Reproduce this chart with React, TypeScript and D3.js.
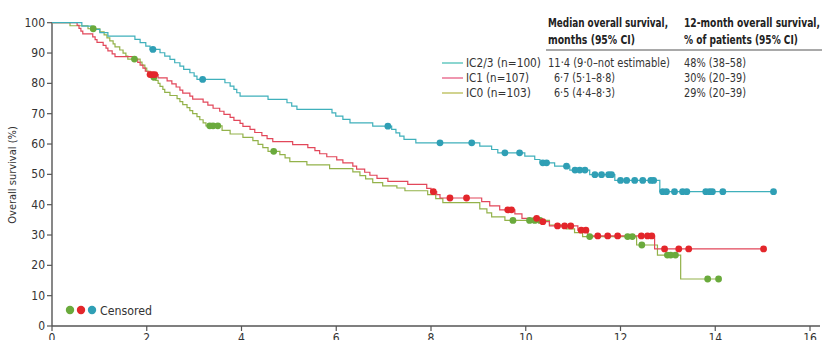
import React from "react";
import * as d3 from "d3";

// ---------- DATA ----------
const xTicks = [0, 2, 4, 6, 8, 10, 12, 14, 16];
const yTicks = [0, 10, 20, 30, 40, 50, 60, 70, 80, 90, 100];

// Kaplan–Meier steps: [month, survival %] after each event
const ic23Steps: [number, number][] = [
  [0.63, 98.9], [0.84, 97.8], [1.01, 96.7], [1.18, 95.6], [1.75, 94.5], [1.86, 93.4],
  [1.98, 92.3], [2.07, 91.2], [2.28, 90.1], [2.38, 89.0], [2.49, 87.9], [2.59, 86.8],
  [2.7, 85.7], [2.78, 84.6], [2.91, 83.5], [3.0, 82.4], [3.06, 81.3], [3.65, 80.2],
  [3.76, 79.1], [3.84, 78.0], [3.9, 76.9], [3.97, 75.8], [4.56, 74.7], [4.96, 73.6],
  [5.06, 72.5], [5.17, 71.4], [5.91, 70.3], [5.99, 69.2], [6.14, 68.1], [6.29, 67.0],
  [6.77, 65.9], [7.17, 64.8], [7.26, 63.7], [7.34, 62.6], [7.43, 61.5], [7.68, 60.4],
  [9.03, 59.3], [9.28, 58.2], [9.41, 57.1], [9.98, 56.0], [10.19, 54.9], [10.3, 53.8],
  [10.61, 52.7], [10.93, 51.4], [11.35, 49.9], [11.88, 48.0], [12.83, 44.3],
];
const ic23Censored = [
  2.13, 3.18, 7.09, 8.19, 8.86, 9.56, 9.87, 10.36, 10.44, 10.86, 11.04, 11.14, 11.25,
  11.46, 11.6, 11.75, 11.81, 12.0, 12.13, 12.3, 12.47, 12.64, 12.7, 12.89, 12.97,
  13.14, 13.31, 13.4, 13.8, 13.88, 13.94, 14.16, 15.23,
];

const ic1Steps: [number, number][] = [
  [0.53, 99.1], [0.57, 98.1], [0.61, 97.2], [0.65, 96.3], [0.86, 95.3], [0.91, 94.4],
  [0.95, 93.5], [1.08, 92.5], [1.14, 91.6], [1.18, 90.7], [1.27, 89.7], [1.33, 88.8],
  [1.71, 87.9], [1.81, 86.9], [1.86, 86.0], [1.92, 85.0], [1.97, 84.0], [2.03, 82.9],
  [2.24, 81.8], [2.43, 80.8], [2.53, 79.8], [2.62, 78.8], [2.7, 77.8], [2.76, 76.8],
  [2.91, 75.8], [2.97, 74.8], [3.19, 73.8], [3.29, 72.8], [3.4, 71.8], [3.54, 70.8],
  [3.63, 69.8], [3.76, 68.8], [3.84, 67.8], [3.97, 66.8], [4.03, 65.8], [4.18, 64.8],
  [4.28, 63.8], [4.43, 62.8], [4.54, 61.8], [4.66, 60.8], [5.08, 59.8], [5.4, 58.8],
  [5.55, 57.8], [5.65, 56.8], [5.8, 55.8], [6.01, 54.8], [6.14, 53.8], [6.35, 52.7],
  [6.43, 51.7], [6.6, 50.7], [6.71, 49.7], [6.86, 48.7], [7.09, 47.7], [7.51, 46.7],
  [7.91, 45.4], [8.0, 44.3], [8.12, 43.3], [8.19, 42.2], [9.07, 41.0], [9.24, 39.6],
  [9.45, 38.3], [9.77, 37.0], [9.92, 35.5], [10.32, 34.4], [10.5, 33.0], [11.1, 31.6],
  [11.31, 29.7], [12.72, 25.4],
];
const ic1Censored = [
  2.07, 2.12, 2.17, 8.05, 8.4, 8.75, 9.62, 9.7, 10.23, 10.36, 10.67, 10.82, 10.95,
  11.17, 11.27, 11.52, 11.73, 11.94, 12.44, 12.57, 12.66, 12.93, 13.23, 13.44, 15.02,
];

const ic0Steps: [number, number][] = [
  [0.38, 99.0], [0.76, 98.0], [1.01, 97.0], [1.1, 96.0], [1.16, 95.0], [1.22, 94.0],
  [1.29, 93.0], [1.33, 92.0], [1.43, 91.0], [1.5, 90.0], [1.56, 89.0], [1.6, 88.0],
  [1.86, 87.0], [1.9, 86.0], [1.96, 85.0], [2.0, 84.0], [2.07, 83.0], [2.11, 82.0],
  [2.19, 81.0], [2.24, 80.0], [2.28, 79.0], [2.34, 78.0], [2.38, 77.0], [2.49, 76.0],
  [2.64, 75.0], [2.7, 74.0], [2.76, 73.0], [2.85, 72.0], [2.91, 71.0], [2.97, 70.0],
  [3.06, 69.0], [3.12, 68.0], [3.19, 67.0], [3.25, 66.0], [3.59, 64.5], [3.76, 63.3],
  [4.03, 62.2], [4.24, 61.1], [4.35, 59.9], [4.45, 58.8], [4.56, 57.6], [4.81, 56.5],
  [4.92, 55.4], [5.02, 54.2], [5.38, 53.1], [5.86, 51.9], [6.35, 50.8], [6.5, 49.6],
  [6.62, 48.5], [6.77, 47.3], [6.98, 46.2], [7.28, 45.5], [7.45, 44.6], [7.93, 43.3],
  [8.1, 42.0], [8.25, 40.7], [9.03, 38.6], [9.18, 37.3], [9.28, 36.0], [9.56, 34.8],
  [10.5, 33.3], [10.86, 32.0], [11.03, 30.8], [11.2, 29.5], [12.34, 26.7], [12.78, 23.4],
  [13.27, 15.5],
];
const ic0Censored = [
  0.87, 1.74, 2.15, 3.33, 3.4, 3.5, 4.68, 9.73, 10.08, 10.19, 10.3, 11.35, 12.15,
  12.25, 12.45, 12.99, 13.06, 13.16, 13.84, 14.07,
];

const groupNames = ["IC2/3 (n=100)", "IC1 (n=107)", "IC0 (n=103)"];
const medianText = ["11·4 (9·0–not estimable)", "6·7 (5·1–8·8)", "6·5 (4·4–8·3)"];
const rate12Text = ["48% (38–58)", "30% (20–39)", "29% (20–39)"];

// ---------- STYLE ----------
const lineColors = ["#3fb0bb", "#e2475a", "#93b24a"];
const dotColors = ["#2f9fb5", "#e3262b", "#6aaa3c"];
const legendLineColors = ["#3dbab0", "#e4507a", "#b2b544"];
const axisColor = "#555";
const textColor = "#333";
const FONT = "'Liberation Sans Narrow', 'DejaVu Sans Condensed', 'Open Sans', sans-serif";

const W = 822;
const H = 340;

function survAt(steps: [number, number][], t: number) {
  let s = 100;
  for (const [st, sv] of steps) {
    if (st <= t) s = sv;
    else break;
  }
  return s;
}

export default function App() {
  const x = d3.scaleLinear().domain([0, 16]).range([52, 810]);
  const y = d3.scaleLinear().domain([0, 100]).range([326, 22.7]);

  const series = [
    { steps: ic23Steps, cens: ic23Censored },
    { steps: ic1Steps, cens: ic1Censored },
    { steps: ic0Steps, cens: ic0Censored },
  ];

  const line = d3
    .line<[number, number]>()
    .x((d) => x(d[0]))
    .y((d) => y(d[1]))
    .curve(d3.curveStepAfter);

  const paths = series.map((s) => {
    const lastT = Math.max(s.cens[s.cens.length - 1], s.steps[s.steps.length - 1][0]);
    const pts: [number, number][] = [[0, 100], ...s.steps, [lastT, s.steps[s.steps.length - 1][1]]];
    return line(pts) || "";
  });

  const drawOrder = [2, 1, 0];
  const legendX0 = 442;
  const rowY = [67, 82, 97];

  return (
    <svg
      width={W}
      height={H}
      style={{ position: "absolute", left: 0, top: 0, background: "#fff" }}
      fontFamily={FONT}
    >
      {/* axes */}
      <line x1={52} x2={52} y1={y(100)} y2={y(0)} stroke={axisColor} strokeWidth={1.4} />
      <line x1={52} x2={820} y1={y(0)} y2={y(0)} stroke={axisColor} strokeWidth={1.4} />
      {yTicks.map((t) => (
        <g key={"y" + t}>
          <line x1={47} x2={52} y1={y(t)} y2={y(t)} stroke={axisColor} strokeWidth={1.2} />
          <text x={45} y={y(t) + 4} textAnchor="end" fontSize={12} fill={textColor}>
            {t}
          </text>
        </g>
      ))}
      {xTicks.map((t) => (
        <g key={"x" + t}>
          <line x1={x(t)} x2={x(t)} y1={y(0)} y2={y(0) + 5} stroke={axisColor} strokeWidth={1.2} />
          <text x={x(t)} y={342} textAnchor="middle" fontSize={12} fill={textColor}>
            {t}
          </text>
        </g>
      ))}
      <text
        transform={`translate(16,${175}) rotate(-90)`}
        textAnchor="middle"
        fontSize={11}
        fill={textColor}
      >
        Overall survival (%)
      </text>

      {/* curves */}
      {drawOrder.map((i) => (
        <path key={"p" + i} d={paths[i]} fill="none" stroke={lineColors[i]} strokeWidth={1.2} />
      ))}
      {drawOrder.map((i) =>
        series[i].cens.map((c, k) => (
          <circle
            key={"c" + i + "-" + k}
            cx={x(c)}
            cy={y(survAt(series[i].steps, c))}
            r={3.4}
            fill={dotColors[i]}
          />
        ))
      )}

      {/* censored legend */}
      {[2, 1, 0].map((i, k) => (
        <circle key={"lc" + i} cx={70 + k * 11} cy={310} r={4.2} fill={dotColors[i]} />
      ))}
      <text x={100} y={314.5} fontSize={12} fill={textColor} textLength={52} lengthAdjust="spacingAndGlyphs">
        Censored
      </text>

      {/* table legend */}
      <text x={548} y={27} fontSize={12} fontWeight="bold" fill="#222" textLength={120} lengthAdjust="spacingAndGlyphs">
        Median overall survival,
      </text>
      <text x={548} y={44} fontSize={12} fontWeight="bold" fill="#222" textLength={87} lengthAdjust="spacingAndGlyphs">
        months (95% CI)
      </text>
      <text x={684} y={27} fontSize={12} fontWeight="bold" fill="#222" textLength={136} lengthAdjust="spacingAndGlyphs">
        12-month overall survival,
      </text>
      <text x={684} y={44} fontSize={12} fontWeight="bold" fill="#222" textLength={114} lengthAdjust="spacingAndGlyphs">
        % of patients (95% CI)
      </text>
      <line x1={546} x2={822} y1={50} y2={50} stroke="#555" strokeWidth={1.2} />

      {groupNames.map((g, i) => (
        <g key={"leg" + i}>
          <line
            x1={legendX0}
            x2={legendX0 + 21}
            y1={rowY[i] - 4}
            y2={rowY[i] - 4}
            stroke={legendLineColors[i]}
            strokeWidth={1.2}
          />
          <text x={466} y={rowY[i]} fontSize={12} fill={textColor} textLength={i === 0 ? 75 : i === 1 ? 63 : 65} lengthAdjust="spacingAndGlyphs">
            {g}
          </text>
          <text
            x={i === 0 ? 548 : 554}
            y={rowY[i]}
            fontSize={12}
            fill={textColor}
            textLength={i === 0 ? 122 : 61}
            lengthAdjust="spacingAndGlyphs"
          >
            {medianText[i]}
          </text>
          <text x={684} y={rowY[i]} fontSize={12} fill={textColor} textLength={62} lengthAdjust="spacingAndGlyphs">
            {rate12Text[i]}
          </text>
        </g>
      ))}
    </svg>
  );
}
